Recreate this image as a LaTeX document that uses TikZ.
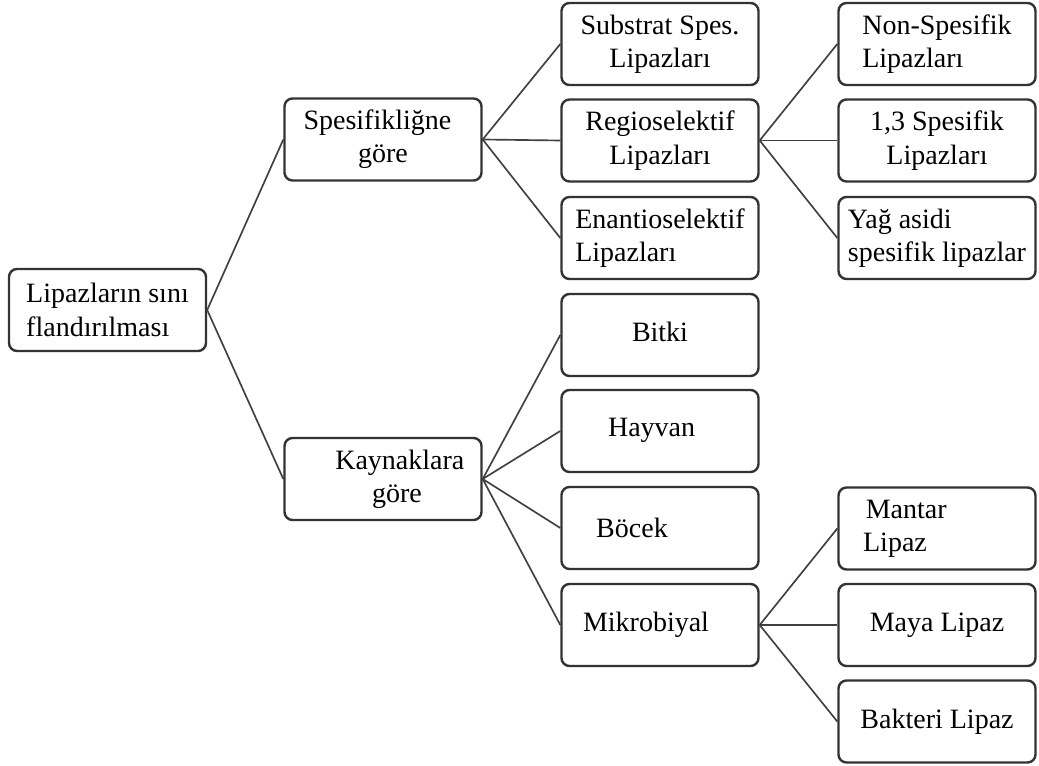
\documentclass[tikz,border=0pt]{standalone}
\usepackage{fontspec}
\setmainfont{Liberation Serif}
\begin{document}
\begin{tikzpicture}[x=0.75pt,y=-0.75pt,
        kutu/.style={draw=black!80,line width=1.8pt,rounded corners=6pt,fill=white,
            minimum width=147.75pt,minimum height=61.5pt,inner sep=2pt,align=center,
            font=\fontsize{21}{25}\selectfont},
        solda/.style={align=left},
        bag/.style={draw=black!75,line width=1.25pt}]
                \useasboundingbox (0,0) rectangle (1039,766);
                %% Kok ve ikinci duzey
                \node[kutu,solda] (sinif) at (107.5,310) {Lipazların sını\\flandırılması};
                \node[kutu] (spesif) at (383,139.5) {Spesifikliğne\hspace*{0.4em}\\göre};
                \node[kutu] (kaynak) at (383,479) {\hspace*{1.2em}Kaynaklara\\\hspace*{1em}göre};
                %% Spesifiklige gore
                \node[kutu] (substrat) at (660,44) {Substrat Spes.\\Lipazları};
                \node[kutu] (regio) at (660,140.5) {Regioselektif\\Lipazları};
                \node[kutu,solda] (enantio) at (660,238) {Enantioselektif\\Lipazları};
                \node[kutu,solda] (nonspes) at (937,44) {Non-Spesifik\\Lipazları};
                \node[kutu] (birucspes) at (937,140.5) {1,3 Spesifik\\Lipazları};
                \node[kutu,solda] (yagasidi) at (937,238) {Yağ asidi\\spesifik lipazlar};
                %% Kaynaklara gore
                \node[kutu] (bitki) at (660,335) {\raisebox{4.5pt}{Bitki}};
                \node[kutu] (hayvan) at (660,431) {\raisebox{6pt}{Hayvan}\hspace*{0.6em}};
                \node[kutu] (bocek) at (660,528) {\raisebox{-3pt}{Böcek}\hspace*{2em}};
                \node[kutu] (mikro) at (660,625) {\raisebox{3.5pt}{Mikrobiyal}\hspace*{1em}};
                \node[kutu] (mantar) at (937,528.5) {Mantar\hspace*{2.2em}\\Lipaz\hspace*{3em}};
                \node[kutu] (maya) at (937,625) {Maya Lipaz};
                \node[kutu] (bakteri) at (937,721.5) {\raisebox{4pt}{Bakteri Lipaz}};
                %% Baglantilar
                \foreach \a/\b in {sinif/spesif,sinif/kaynak,
                    spesif/substrat,spesif/regio,spesif/enantio,
                    regio/nonspes,regio/birucspes,regio/yagasidi,
                    kaynak/bitki,kaynak/hayvan,kaynak/bocek,kaynak/mikro,
                    mikro/mantar,mikro/maya,mikro/bakteri}
                    \draw[bag] (\a.east) -- (\b.west);
            \end{tikzpicture}
\end{document}
